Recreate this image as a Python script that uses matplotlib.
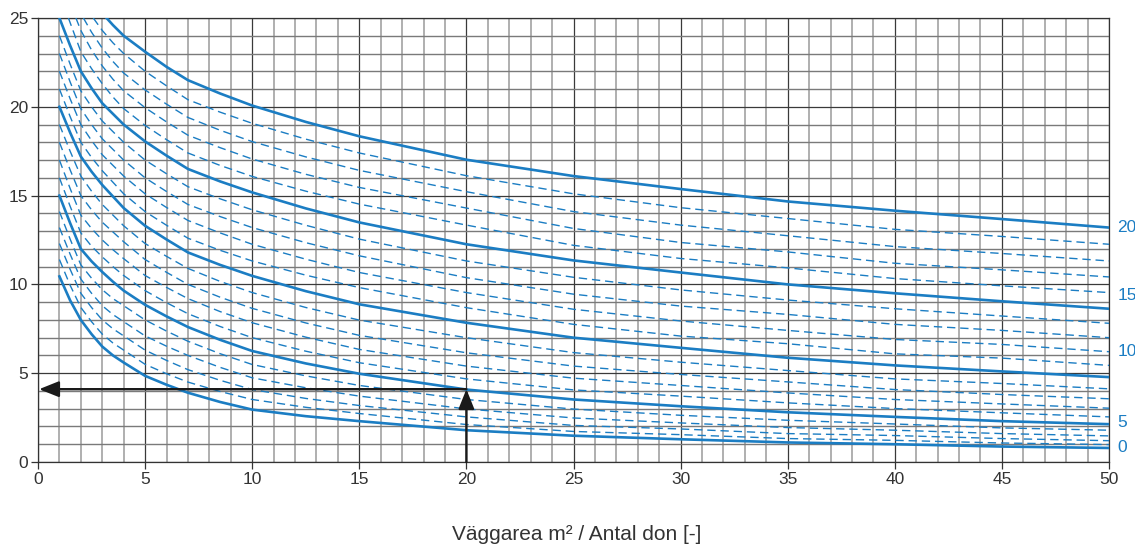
import numpy as np
import matplotlib
matplotlib.use("Agg")
import matplotlib.pyplot as plt

plt.rcParams['font.family'] = ['Liberation Sans', 'DejaVu Sans']

x_pts = [1, 1.5, 2, 2.5, 3, 3.5, 4, 5, 6, 7, 8.5, 10, 12.5, 15, 20, 25, 30, 35, 40, 45, 50]
nan = np.nan

# curves from bottom (0) to top (20); every 5th one is drawn solid
curve_00 = [10.45, 9.1, 8.0, 7.2, 6.5, 6.0, 5.6, 4.85, 4.35, 3.9, 3.38, 2.95, 2.58, 2.3, 1.79, 1.48, 1.28, 1.1, 1.0, 0.87, 0.79]
curve_01 = [11.4, 9.95, 8.7, 7.9, 7.2, 6.7, 6.3, 5.5, 4.97, 4.5, 3.97, 3.52, 3.08, 2.73, 2.11, 1.72, 1.54, 1.32, 1.22, 1.07, 0.98]
curve_02 = [12.3, 10.85, 9.5, 8.7, 8.0, 7.5, 7.1, 6.3, 5.72, 5.2, 4.6, 4.08, 3.58, 3.18, 2.54, 2.06, 1.86, 1.6, 1.49, 1.32, 1.2]
curve_03 = [13.2, 11.7, 10.3, 9.5, 8.8, 8.3, 7.9, 7.1, 6.52, 6.0, 5.33, 4.74, 4.18, 3.71, 2.99, 2.48, 2.2, 1.94, 1.79, 1.6, 1.47]
curve_04 = [14.1, 12.55, 11.1, 10.35, 9.7, 9.2, 8.8, 8.0, 7.37, 6.8, 6.1, 5.49, 4.85, 4.31, 3.52, 2.98, 2.63, 2.35, 2.14, 1.92, 1.79]
curve_05 = [15.0, 13.45, 12.0, 11.3, 10.7, 10.15, 9.65, 8.85, 8.2, 7.6, 6.88, 6.25, 5.55, 4.97, 4.08, 3.52, 3.14, 2.8, 2.54, 2.3, 2.13]
curve_06 = [16.0, 14.4, 12.9, 12.15, 11.55, 11.0, 10.5, 9.65, 8.97, 8.35, 7.63, 7.0, 6.24, 5.59, 4.68, 4.06, 3.71, 3.33, 3.01, 2.77, 2.54]
curve_07 = [17.0, 15.4, 13.9, 13.15, 12.5, 11.95, 11.45, 10.5, 9.83, 9.2, 8.47, 7.84, 7.03, 6.34, 5.4, 4.72, 4.31, 3.89, 3.52, 3.27, 3.03]
curve_08 = [18.0, 16.45, 15.0, 14.2, 13.5, 12.95, 12.4, 11.4, 10.68, 10.0, 9.28, 8.65, 7.83, 7.13, 6.15, 5.4, 4.93, 4.51, 4.08, 3.8, 3.56]
curve_09 = [19.0, 17.5, 16.1, 15.25, 14.5, 13.9, 13.3, 12.3, 11.58, 10.9, 10.17, 9.54, 8.7, 7.99, 7.0, 6.16, 5.62, 5.15, 4.68, 4.42, 4.12]
curve_10 = [20.0, 18.55, 17.2, 16.35, 15.6, 14.95, 14.3, 13.3, 12.53, 11.8, 11.1, 10.48, 9.62, 8.88, 7.84, 7.0, 6.43, 5.87, 5.44, 5.1, 4.78]
curve_11 = [21.0, 19.45, 18.0, 17.15, 16.4, 15.75, 15.1, 14.1, 13.33, 12.6, 11.92, 11.32, 10.52, 9.82, 8.69, 7.75, 7.09, 6.66, 6.09, 5.85, 5.44]
curve_12 = [22.0, 20.45, 19.0, 18.1, 17.3, 16.7, 16.1, 15.1, 14.33, 13.6, 12.9, 12.26, 11.42, 10.67, 9.54, 8.6, 7.94, 7.41, 6.9, 6.62, 6.21]
curve_13 = [23.0, 21.4, 19.9, 19.0, 18.2, 17.6, 17.0, 16.0, 15.23, 14.5, 13.82, 13.2, 12.35, 11.61, 10.38, 9.45, 8.78, 8.31, 7.75, 7.41, 7.0]
curve_14 = [24.0, 22.4, 20.9, 20.0, 19.2, 18.6, 18.0, 17.0, 16.23, 15.5, 14.82, 14.2, 13.33, 12.55, 11.32, 10.4, 9.69, 9.12, 8.63, 8.22, 7.81]
curve_15 = [25.0, 23.45, 22.0, 21.05, 20.2, 19.6, 19.0, 18.05, 17.25, 16.5, 15.8, 15.18, 14.28, 13.49, 12.26, 11.35, 10.67, 10.0, 9.5, 9.05, 8.63]
curve_16 = [nan, nan, 23.1, 22.15, 21.3, 20.55, 19.9, 18.95, 18.15, 17.4, 16.7, 16.08, 15.25, 14.52, 13.34, 12.2, 11.46, 10.93, 10.33, 9.92, 9.54]
curve_17 = [nan, nan, 24.3, 23.2, 22.3, 21.55, 20.9, 19.95, 19.15, 18.4, 17.7, 17.06, 16.2, 15.46, 14.3, 13.15, 12.36, 11.83, 11.19, 10.82, 10.42]
curve_18 = [nan, nan, nan, 24.2, 23.3, 22.55, 21.9, 20.95, 20.15, 19.4, 18.68, 18.04, 17.18, 16.42, 15.22, 14.1, 13.34, 12.74, 12.13, 11.74, 11.32]
curve_19 = [nan, nan, nan, nan, 24.3, 23.6, 23.0, 22.0, 21.18, 20.4, 19.7, 19.07, 18.18, 17.4, 16.12, 15.1, 14.32, 13.71, 13.1, 12.7, 12.26]
curve_20 = [nan, nan, nan, nan, nan, 24.6, 24.0, 23.1, 22.25, 21.5, 20.75, 20.07, 19.15, 18.34, 17.02, 16.1, 15.37, 14.67, 14.15, 13.68, 13.2]

# where the upper curves enter through the top edge (y = 25)
top_entry_x = [1.42, 1.77, 2.12, 2.58, 3.2]

curves = [curve_00, curve_01, curve_02, curve_03, curve_04, curve_05, curve_06,
          curve_07, curve_08, curve_09, curve_10, curve_11, curve_12, curve_13,
          curve_14, curve_15, curve_16, curve_17, curve_18, curve_19, curve_20]

right_labels = ['0', '5', '10', '15', '20']
right_label_y = [0.8, 2.2, 6.2, 9.4, 13.2]

# reading example: 20 m2 per device -> 4
example_x = 20
example_y = 4.1

blue = '#1b7dc3'

fig = plt.figure(figsize=(11.35, 5.46), dpi=100)
ax = fig.add_axes([38 / 1135, 84 / 546, 1071 / 1135, 444 / 546])

# grid: thin grey every unit, darker every 5
for v in range(0, 51):
    major = v % 5 == 0
    ax.axvline(v, color='#3a3a3a' if major else '#9a9a9a',
               lw=0.9 if major else 1.1, zorder=1)
for v in range(0, 26):
    major = v % 5 == 0
    ax.axhline(v, color='#3a3a3a' if major else '#7a7a7a',
               lw=0.9 if major else 1.0, zorder=1)

for i, c in enumerate(curves):
    xs = list(x_pts)
    ys = list(c)
    if i >= 16:
        keep = [j for j in range(len(xs)) if not np.isnan(ys[j])]
        xs = [top_entry_x[i - 16]] + [xs[j] for j in keep]
        ys = [25.0] + [ys[j] for j in keep]
    if i % 5 == 0:
        ax.plot(xs, ys, color=blue, lw=1.9, solid_joinstyle='round', zorder=3)
    else:
        ax.plot(xs, ys, color=blue, lw=1.0, dashes=(6, 3.5), zorder=3)

# example arrows
ax.annotate('', xy=(0.05, example_y), xytext=(example_x, example_y),
            arrowprops=dict(arrowstyle='-|>,head_length=1.0,head_width=0.4',
                            mutation_scale=12, color='#1a1a1a', lw=1.7,
                            shrinkA=0, shrinkB=0), zorder=5)
ax.annotate('', xy=(example_x, example_y), xytext=(example_x, 0),
            arrowprops=dict(arrowstyle='-|>,head_length=1.0,head_width=0.4',
                            mutation_scale=12, color='#1a1a1a', lw=1.7,
                            shrinkA=0, shrinkB=0), zorder=5)

for lab, yv in zip(right_labels, right_label_y):
    ax.text(50.4, yv, lab, color=blue, fontsize=12.5, va='center', ha='left',
            clip_on=False)

ax.set_xlim(0, 50)
ax.set_ylim(0, 25)
ax.set_xticks(range(0, 51, 5))
ax.set_yticks(range(0, 26, 5))
ax.tick_params(direction='out', length=5, width=0.9, color='#333333',
               labelsize=12.5, labelcolor='#333333', pad=2)
for s in ax.spines.values():
    s.set_color('#333333')
    s.set_linewidth(0.9)

fig.text(577 / 1135, 1 - 540 / 546, 'Väggarea m² / Antal don [-]',
         ha='center', va='baseline', fontsize=15, color='#333333')

fig.savefig('out.png', dpi=100)
